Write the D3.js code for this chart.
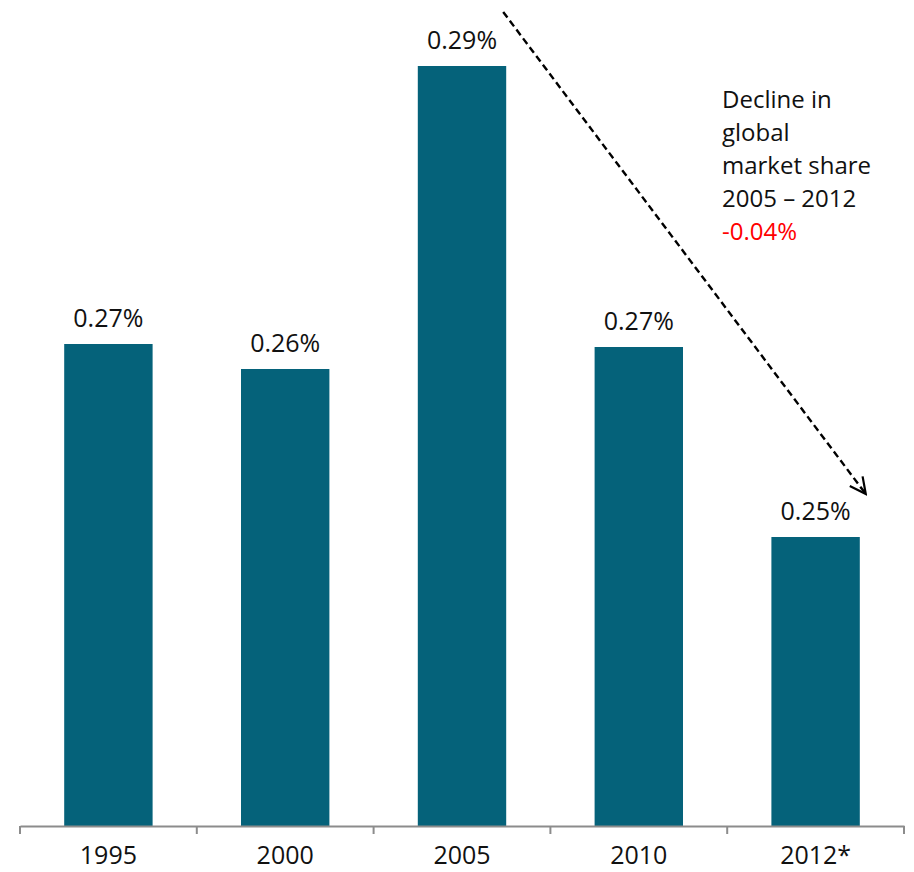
<!DOCTYPE html>
<html>
<head>
<meta charset="utf-8">
<script src="https://cdn.jsdelivr.net/npm/d3@7/dist/d3.min.js"></script>
<style>
  html, body { margin: 0; padding: 0; background: #fff; }
  svg { display: block; font-family: "Open Sans", "Noto Sans", sans-serif; }
</style>
</head>
<body>
<svg id="chart" width="914" height="872"></svg>
<script>
// Global market share by year (percent)
const years = ["1995", "2000", "2005", "2010", "2012*"];
const shares = [0.2662, 0.2637, 0.2940, 0.2659, 0.2469];
const noteLines = ["Decline in", "global", "market share", "2005 \u2013 2012"];
const noteChange = "-0.04%";

const svg = d3.select("#chart");
const barColor = "#05627A";
const axisColor = "#8C8C8C";
const baseY = 826;

const x = d3.scaleBand()
  .domain(years)
  .range([20, 904])
  .paddingInner(0.5)
  .paddingOuter(0.25);

const y = d3.scaleLinear()
  .domain([0.218, 0.300])
  .range([baseY, 6]);

const fmt = d3.format(".2f");
const data = years.map((yr, i) => ({ year: yr, value: shares[i] }));

// Bars
svg.append("g")
  .selectAll("rect")
  .data(data)
  .join("rect")
  .attr("x", d => x(d.year))
  .attr("y", d => y(d.value))
  .attr("width", x.bandwidth())
  .attr("height", d => baseY - y(d.value))
  .attr("fill", barColor);

// Value labels
svg.append("g")
  .selectAll("text")
  .data(data)
  .join("text")
  .attr("x", d => x(d.year) + x.bandwidth() / 2)
  .attr("y", d => y(d.value) - 17)
  .attr("text-anchor", "middle")
  .attr("font-size", 25)
  .attr("fill", "#111")
  .text(d => fmt(d.value) + "%");

// Category axis: labels centred on bands
const axis = svg.append("g")
  .attr("transform", `translate(0,${baseY})`)
  .call(d3.axisBottom(x).tickSize(0).tickPadding(20));
axis.select(".domain").attr("stroke", axisColor).attr("stroke-width", 2);
axis.selectAll(".tick text")
  .attr("font-size", 25)
  .attr("fill", "#111")
  .attr("font-family", "'Open Sans', 'Noto Sans', sans-serif");

// Tick marks on band boundaries
const step = x.step();
const bounds = d3.range(years.length + 1).map(i => x.range()[0] + i * step);
svg.append("g")
  .selectAll("line")
  .data(bounds)
  .join("line")
  .attr("x1", d => d).attr("x2", d => d)
  .attr("y1", baseY).attr("y2", baseY + 8)
  .attr("stroke", axisColor)
  .attr("stroke-width", 2);

// Dashed trend arrow from the 2005 peak down to 2012
const defs = svg.append("defs");
defs.append("marker")
  .attr("id", "head")
  .attr("viewBox", "0 0 20 20")
  .attr("refX", 18).attr("refY", 10)
  .attr("markerWidth", 20).attr("markerHeight", 20)
  .attr("markerUnits", "userSpaceOnUse")
  .attr("orient", "auto")
  .append("path")
  .attr("d", "M2,2 L18,10 L2,18")
  .attr("fill", "none")
  .attr("stroke", "#000")
  .attr("stroke-width", 2.2);

const x0 = x("2005") + x.bandwidth() - 3;
const x1 = x("2012*") + x.bandwidth() + 6;
const y1 = y(shares[4]) - 43;
svg.append("line")
  .attr("x1", x0).attr("y1", 12)
  .attr("x2", x1).attr("y2", y1)
  .attr("stroke", "#000")
  .attr("stroke-width", 2.4)
  .attr("stroke-dasharray", "7,4")
  .attr("marker-end", "url(#head)");

// Annotation text
const note = svg.append("text")
  .attr("x", 722)
  .attr("y", 108)
  .attr("font-size", 24)
  .attr("fill", "#111");
noteLines.forEach((t, i) => {
  note.append("tspan").attr("x", 722).attr("dy", i === 0 ? 0 : 33).text(t);
});
note.append("tspan").attr("x", 722).attr("dy", 33).attr("fill", "#FF0000").text(noteChange);
</script>
</body>
</html>
